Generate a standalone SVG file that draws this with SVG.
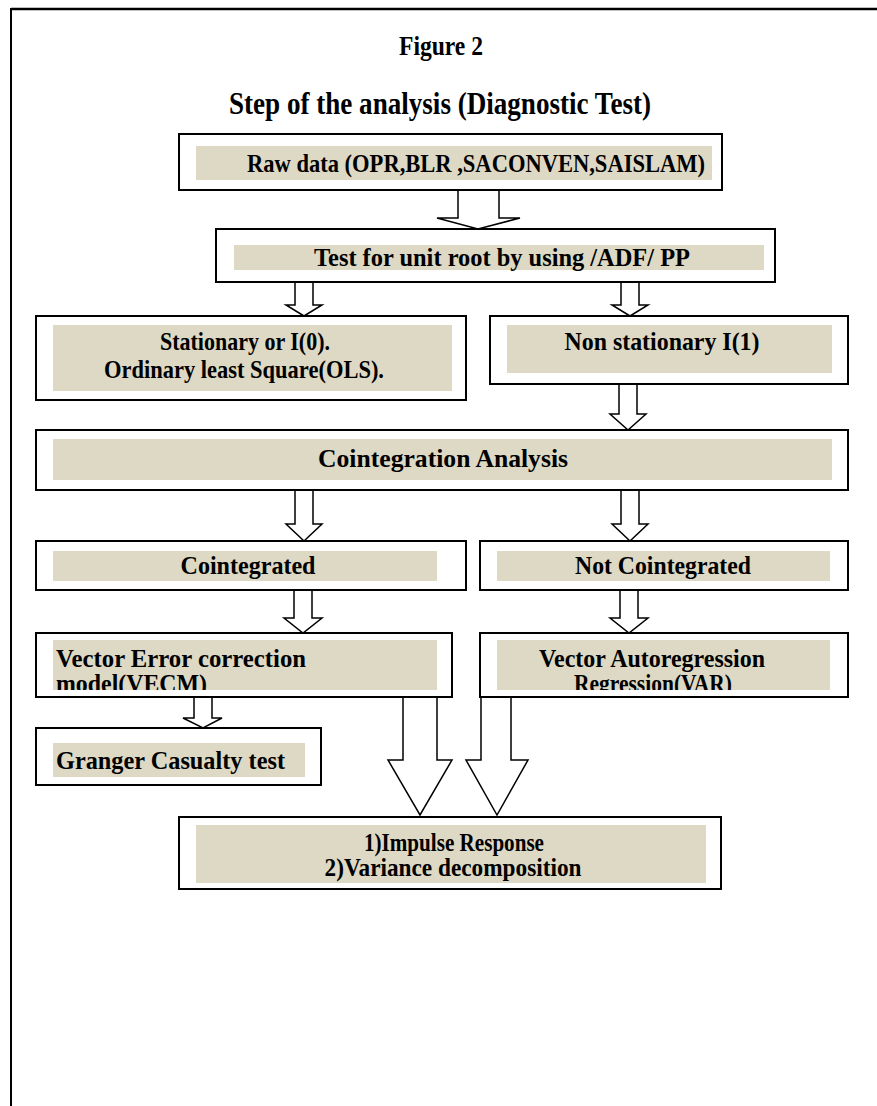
<svg xmlns="http://www.w3.org/2000/svg" width="877" height="1106" viewBox="0 0 877 1106">
<style>
.box{fill:#fff;stroke:#000;stroke-width:2}
.fill{fill:#DDD9C4}
.t{font-family:"Liberation Serif","Times New Roman",serif;font-weight:bold;font-size:25px;fill:#000}
.c{text-anchor:middle}
.arr{fill:#fff;stroke:#000;stroke-width:1.5;stroke-linejoin:miter}
</style>
<defs>
<clipPath id="clipVecm"><rect x="53" y="640" width="384" height="50"/></clipPath>
<clipPath id="clipVar"><rect x="497" y="640" width="333" height="50"/></clipPath>
</defs>
<rect width="877" height="1106" fill="#fff"/>
<g id="frame">
<line x1="11" y1="9" x2="877" y2="9" stroke="#000" stroke-width="2.5"/>
<line x1="11" y1="8" x2="11" y2="1106" stroke="#000" stroke-width="2"/>
</g>
<g id="titles">
<text class="t c" x="441" y="55" style="font-size:27px" textLength="84" lengthAdjust="spacingAndGlyphs">Figure 2</text>
<text class="t c" x="440" y="114" style="font-size:32px" textLength="422" lengthAdjust="spacingAndGlyphs">Step of the analysis (Diagnostic Test)</text>
</g>
<g id="connectors">
<path class="arr" d="M458,190 L458,218 L437,218 L478,229 L520,218 L499,218 L499,190"/>
<path class="arr" d="M295,282 L295,305 L286,305 L304,316 L322,305 L313,305 L313,282"/>
<path class="arr" d="M621,282 L621,305 L612,305 L630,316 L648,305 L639,305 L639,282"/>
<path class="arr" d="M619,384 L619,414 L610,414 L628,430 L646,414 L637,414 L637,384"/>
<path class="arr" d="M295,490 L295,524 L286,524 L304,541 L322,524 L313,524 L313,490"/>
<path class="arr" d="M621,490 L621,524 L612,524 L630,541 L648,524 L639,524 L639,490"/>
<path class="arr" d="M294,590 L294,618 L284,618 L303,633 L322,618 L312,618 L312,590"/>
<path class="arr" d="M620,590 L620,618 L610,618 L629,633 L648,618 L638,618 L638,590"/>
<path class="arr" d="M194,697 L194,718 L183,718 L203,728 L222,718 L212,718 L212,697"/>
<path class="arr" d="M403,697 L403,760 L388,760 L420,815 L452,760 L437,760 L437,697"/>
<path class="arr" d="M481,697 L481,760 L466,760 L497,815 L528,760 L511,760 L511,697"/>
</g>
<g id="raw">
<rect class="box" x="179" y="134" width="543" height="56"/>
<rect class="fill" x="196" y="146" width="516" height="34"/>
<text class="t c" x="476" y="172" textLength="458" lengthAdjust="spacingAndGlyphs">Raw data (OPR,BLR ,SACONVEN,SAISLAM)</text>
</g>
<g id="unitroot">
<rect class="box" x="216" y="229" width="559" height="53"/>
<rect class="fill" x="234" y="245" width="530" height="25"/>
<text class="t c" x="502" y="266" textLength="376" lengthAdjust="spacingAndGlyphs">Test for unit root by using /ADF/ PP</text>
</g>
<g id="stationary">
<rect class="box" x="36" y="316" width="430" height="84"/>
<rect class="fill" x="53" y="325" width="399" height="66"/>
<text class="t c" x="245" y="350" textLength="170" lengthAdjust="spacingAndGlyphs">Stationary or I(0).</text>
<text class="t c" x="244" y="378" textLength="280" lengthAdjust="spacingAndGlyphs">Ordinary least Square(OLS).</text>
</g>
<g id="nonstationary">
<rect class="box" x="490" y="316" width="358" height="68"/>
<rect class="fill" x="507" y="325" width="325" height="48"/>
<text class="t c" x="662" y="350" textLength="195" lengthAdjust="spacingAndGlyphs">Non stationary I(1)</text>
</g>
<g id="cointegration">
<rect class="box" x="36" y="430" width="812" height="60"/>
<rect class="fill" x="53" y="439" width="779" height="41"/>
<text class="t c" x="443" y="467" textLength="250" lengthAdjust="spacingAndGlyphs">Cointegration  Analysis</text>
</g>
<g id="cointegrated">
<rect class="box" x="36" y="541" width="430" height="49"/>
<rect class="fill" x="53" y="551" width="384" height="30"/>
<text class="t c" x="248" y="574" textLength="135" lengthAdjust="spacingAndGlyphs">Cointegrated</text>
</g>
<g id="notcointegrated">
<rect class="box" x="480" y="541" width="368" height="49"/>
<rect class="fill" x="497" y="551" width="333" height="30"/>
<text class="t c" x="663" y="574" textLength="176" lengthAdjust="spacingAndGlyphs">Not Cointegrated</text>
</g>
<g id="vecm">
<rect class="box" x="36" y="633" width="416" height="64"/>
<rect class="fill" x="53" y="640" width="384" height="50"/>
<text class="t" x="56" y="667" textLength="250" lengthAdjust="spacingAndGlyphs">Vector Error correction</text>
<text class="t" x="56" y="692" clip-path="url(#clipVecm)" textLength="151" lengthAdjust="spacingAndGlyphs">model(VECM)</text>
</g>
<g id="var">
<rect class="box" x="480" y="633" width="368" height="64"/>
<rect class="fill" x="497" y="640" width="333" height="50"/>
<text class="t c" x="652" y="667" textLength="226" lengthAdjust="spacingAndGlyphs">Vector Autoregression</text>
<text class="t c" x="653" y="692" clip-path="url(#clipVar)" textLength="158" lengthAdjust="spacingAndGlyphs">Regression(VAR)</text>
</g>
<g id="granger">
<rect class="box" x="36" y="728" width="285" height="57"/>
<rect class="fill" x="53" y="743" width="252" height="34"/>
<text class="t" x="56" y="769" textLength="229" lengthAdjust="spacingAndGlyphs">Granger Casualty test</text>
</g>
<g id="impulse">
<rect class="box" x="179" y="817" width="542" height="72"/>
<rect class="fill" x="196" y="825" width="510" height="58"/>
<text class="t c" x="454" y="851" textLength="180" lengthAdjust="spacingAndGlyphs">1)Impulse Response</text>
<text class="t c" x="453" y="876" textLength="257" lengthAdjust="spacingAndGlyphs">2)Variance decomposition</text>
</g>
</svg>
